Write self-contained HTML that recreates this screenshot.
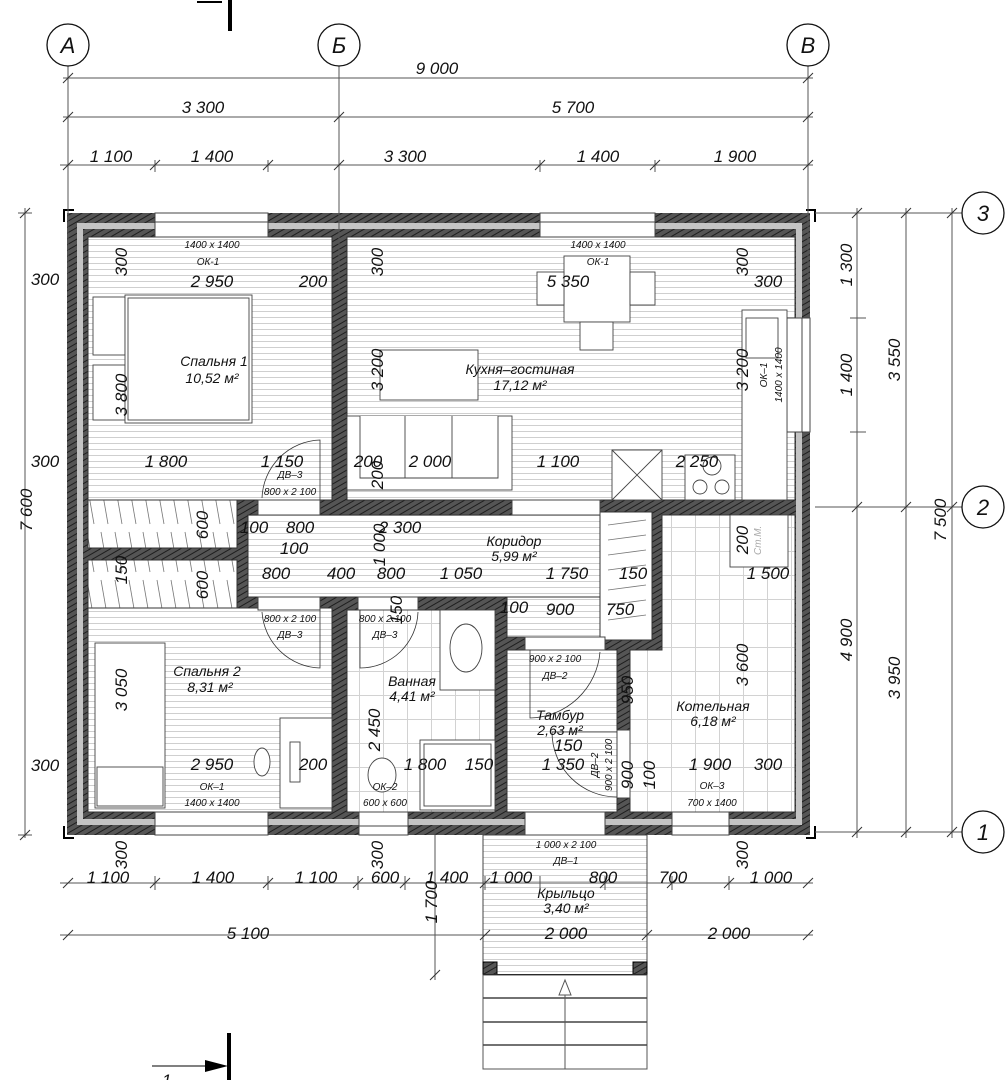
<!DOCTYPE html>
<html><head><meta charset="utf-8"><style>
html,body{margin:0;padding:0;background:#fff;}
svg{display:block;}
text{font-family:"Liberation Sans",sans-serif;font-style:italic;fill:#111;}
.d{font-size:17px;}
.s{font-size:10px;}
.r{font-size:14px;}
</style></head><body>
<svg width="1008" height="1080" viewBox="0 0 1008 1080" xmlns="http://www.w3.org/2000/svg">
<defs>
<pattern id="h" width="5" height="5" patternUnits="userSpaceOnUse" patternTransform="rotate(60)">
<rect width="5" height="5" fill="#555"/><line x1="0" y1="0" x2="0" y2="5" stroke="#1e1e1e" stroke-width="2"/></pattern>
<pattern id="fl" width="8" height="6" patternUnits="userSpaceOnUse"><rect width="8" height="6" fill="#fff"/><line x1="0" y1="5.5" x2="8" y2="5.5" stroke="#cfcfcf" stroke-width="1"/></pattern>
<pattern id="tl" width="24" height="24" patternUnits="userSpaceOnUse"><rect width="24" height="24" fill="#fff"/><path d="M0 23.5H24M23.5 0V24" stroke="#d2d2d2" stroke-width="1"/></pattern>
<pattern id="wd" width="14" height="48" patternUnits="userSpaceOnUse"><rect width="14" height="48" fill="#fff"/><line x1="3" y1="4" x2="10" y2="44" stroke="#777" stroke-width="0.8"/></pattern>
</defs>

<rect x="67" y="213" width="743" height="622" fill="url(#h)"/>
<rect x="80" y="226" width="719" height="596" fill="none" stroke="#c4c4c4" stroke-width="6"/>
<rect x="88" y="237" width="244" height="263" fill="url(#fl)" stroke="#333"/>
<rect x="88" y="500" width="149" height="48" fill="url(#wd)" stroke="#333"/>
<rect x="347" y="237" width="448" height="263" fill="url(#fl)" stroke="#333"/>
<rect x="248" y="515" width="352" height="82" fill="url(#fl)" stroke="#333"/>
<rect x="507" y="597" width="93" height="40" fill="url(#fl)" stroke="#333"/>
<rect x="600" y="512" width="52" height="128" fill="#fff" stroke="#333"/>
<path d="M608 525l38-5M608 540l38-5M608 555l38-5M608 570l38-5M608 590l38-5M608 605l38-5M608 620l38-5" stroke="#777" stroke-width="0.8"/>
<rect x="88" y="560" width="149" height="48" fill="url(#wd)" stroke="#333"/>
<rect x="88" y="608" width="244" height="204" fill="url(#fl)" stroke="#333"/>
<rect x="347" y="610" width="148" height="202" fill="url(#tl)" stroke="#333"/>
<rect x="507" y="650" width="110" height="162" fill="url(#fl)" stroke="#333"/>
<path d="M662 515H795V812H630V650H662Z" fill="url(#tl)" stroke="#333"/>
<g fill="#fff" stroke="#444">
<rect x="155" y="213" width="113" height="24"/><line x1="155" y1="222" x2="268" y2="222"/>
<rect x="540" y="213" width="115" height="24"/><line x1="540" y1="222" x2="655" y2="222"/>
<rect x="787" y="318" width="23" height="114"/><line x1="802" y1="318" x2="802" y2="432"/>
<rect x="155" y="812" width="113" height="23"/><line x1="155" y1="826" x2="268" y2="826"/>
<rect x="359" y="812" width="49" height="23"/><line x1="359" y1="826" x2="408" y2="826"/>
<rect x="525" y="812" width="80" height="23"/>
<rect x="672" y="812" width="57" height="23"/><line x1="672" y1="826" x2="729" y2="826"/>
<rect x="258" y="500" width="62" height="15"/>
<rect x="512" y="500" width="88" height="15"/>
<rect x="258" y="597" width="62" height="13"/>
<rect x="358" y="597" width="60" height="13"/>
<rect x="525" y="637" width="80" height="13"/>
<rect x="617" y="730" width="13" height="68"/>
</g>
<g fill="none" stroke="#333" stroke-width="0.8">
<path d="M320 500V440A60 60 0 0 0 262 498"/>
<path d="M320 610V668A60 60 0 0 1 262 612"/>
<path d="M360 610V668A58 58 0 0 0 418 612"/>
<path d="M530 650V718A72 72 0 0 0 600 652"/>
<path d="M617 732H552A65 65 0 0 0 617 797"/>
<path d="M530 835V910A72 72 0 0 0 600 838"/>
</g>
<g fill="#fff" stroke="#444" stroke-width="0.9">
<rect x="93" y="297" width="32" height="58"/><rect x="93" y="365" width="32" height="55"/>
<rect x="125" y="295" width="127" height="128"/><rect x="128" y="298" width="121" height="122"/>
<rect x="564" y="256" width="66" height="66"/><rect x="537" y="272" width="27" height="33"/><rect x="630" y="272" width="25" height="33"/><rect x="580" y="322" width="33" height="28"/>
<rect x="380" y="350" width="98" height="50"/>
<rect x="347" y="416" width="165" height="74"/><path d="M360 416V478H498V416M405 416V478M452 416V478"/>
<rect x="742" y="310" width="45" height="190"/><rect x="746" y="318" width="32" height="40"/>
<rect x="612" y="450" width="50" height="50"/><path d="M612 450L662 500M662 450L612 500"/>
<rect x="685" y="455" width="50" height="45"/><circle cx="712" cy="466" r="9"/><circle cx="700" cy="487" r="7"/><circle cx="722" cy="487" r="7"/>
<rect x="95" y="643" width="70" height="165"/><rect x="97" y="767" width="66" height="39"/>
<rect x="280" y="718" width="52" height="90"/><rect x="290" y="742" width="10" height="40"/><ellipse cx="262" cy="762" rx="8" ry="14"/>
<rect x="440" y="610" width="55" height="80"/><ellipse cx="466" cy="648" rx="16" ry="24"/>
<rect x="420" y="740" width="75" height="70"/><rect x="424" y="744" width="67" height="62"/>
<ellipse cx="382" cy="775" rx="14" ry="17"/>
<rect x="730" y="515" width="58" height="52"/>
</g>
<text x="748" y="548" class="s" style="fill:#aaa" transform="rotate(-90 758 545)">Ст.М.</text>
<rect x="483" y="835" width="164" height="140" fill="url(#fl)" stroke="#444"/>
<rect x="483" y="962" width="14" height="13" fill="url(#h)" stroke="#000"/>
<rect x="633" y="962" width="14" height="13" fill="url(#h)" stroke="#000"/>
<line x1="483" y1="975" x2="647" y2="975" stroke="#000" stroke-width="2"/>
<rect x="483" y="975" width="164" height="94" fill="#fff" stroke="#555"/>
<path d="M483 998H647M483 1022H647M483 1045H647" stroke="#444" stroke-width="1.5"/>
<path d="M565 1069V985" stroke="#555"/><path d="M559 995L565 980L571 995Z" fill="#fff" stroke="#555"/>
<line x1="230" y1="0" x2="230" y2="31" stroke="#000" stroke-width="4"/>
<path d="M197 2H222" stroke="#000" stroke-width="2"/>
<line x1="229" y1="1033" x2="229" y2="1080" stroke="#000" stroke-width="4"/>
<line x1="152" y1="1066" x2="210" y2="1066" stroke="#000"/><path d="M205 1060L228 1066L205 1072Z" fill="#000"/>
<text x="162" y="1086" class="d">1</text>
<path d="M64 222V210H74M64 826V838H74M806 210H815V222M815 826V838H806" fill="none" stroke="#000" stroke-width="2"/>

<g stroke="#555" stroke-width="1" fill="none">
<path d="M68 66V290M339 66V290M808 66V290"/>
<path d="M63 78H813M63 117H813M60 165H813"/>
<path d="M155 160V172M268 160V172M540 160V172M655 160V172"/>
<path d="M60 883H813M60 935H813"/>
<path d="M155 876V890M268 876V890M358 876V890M405 876V890M485 876V890M540 876V890M605 876V890M672 876V890M729 876V890"/>
<path d="M25 208V838M18 213H32M18 835H32"/>
<path d="M857 208V838M906 208V838M952 208V838"/>
<path d="M815 213H962M815 507H962M815 832H962"/>
<path d="M850 318H866M850 432H866"/>
<path d="M435 825V980"/>
</g>
<g stroke="#333" stroke-width="1">
<path d="M63 83L73 73M63 122L73 112M334 122L344 112M803 83L813 73M803 122L813 112M63 170L73 160M150 170L160 160M263 170L273 160M334 170L344 160M535 170L545 160M650 170L660 160M803 170L813 160"/>
<path d="M852 218L862 208M852 512L862 502M852 837L862 827M901 218L911 208M901 512L911 502M901 837L911 827M947 218L957 208M947 512L957 502M947 837L957 827"/>
<path d="M20 218L30 208M20 840L30 830M63 888L73 878M150 888L160 878M263 888L273 878M353 888L363 878M400 888L410 878M480 888L490 878M600 888L610 878M667 888L677 878M724 888L734 878M803 888L813 878M63 940L73 930M480 940L490 930M642 940L652 930M803 940L813 930M430 980L440 970"/>
</g>
<g fill="#fff" stroke="#111" stroke-width="1.3">
<circle cx="68" cy="45" r="21"/><circle cx="339" cy="45" r="21"/><circle cx="808" cy="45" r="21"/>
<circle cx="983" cy="213" r="21"/><circle cx="983" cy="507" r="21"/><circle cx="983" cy="832" r="21"/>
</g>
<g style="font-size:22px" text-anchor="middle">
<text x="68" y="53">А</text><text x="339" y="53">Б</text><text x="808" y="53">В</text>
<text x="983" y="221">3</text><text x="983" y="515">2</text><text x="983" y="840">1</text>
</g>

<g class="d" text-anchor="middle">
<text x="437" y="74">9 000</text>
<text x="203" y="113">3 300</text><text x="573" y="113">5 700</text>
<text x="111" y="162">1 100</text><text x="212" y="162">1 400</text><text x="405" y="162">3 300</text><text x="598" y="162">1 400</text><text x="735" y="162">1 900</text>
<text x="108" y="883">1 100</text><text x="213" y="883">1 400</text><text x="316" y="883">1 100</text><text x="385" y="883">600</text><text x="447" y="883">1 400</text><text x="511" y="883">1 000</text><text x="603" y="883">800</text><text x="673" y="883">700</text><text x="771" y="883">1 000</text>
<text x="248" y="939">5 100</text><text x="566" y="939">2 000</text><text x="729" y="939">2 000</text>
<text transform="translate(32 510) rotate(-90)">7 600</text>
<text transform="translate(852 265) rotate(-90)">1 300</text>
<text transform="translate(852 375) rotate(-90)">1 400</text>
<text transform="translate(852 640) rotate(-90)">4 900</text>
<text transform="translate(900 360) rotate(-90)">3 550</text>
<text transform="translate(900 678) rotate(-90)">3 950</text>
<text transform="translate(946 520) rotate(-90)">7 500</text>
<text transform="translate(437 902) rotate(-90)">1 700</text>
<text x="45" y="285">300</text><text x="45" y="467">300</text><text x="45" y="771">300</text>
<text transform="translate(127 262) rotate(-90)">300</text>
<text x="212" y="287">2 950</text><text x="313" y="287">200</text>
<text transform="translate(127 395) rotate(-90)">3 800</text>
<text x="166" y="467">1 800</text><text x="282" y="467">1 150</text>
<text transform="translate(383 262) rotate(-90)">300</text>
<text x="568" y="287">5 350</text><text x="768" y="287">300</text>
<text transform="translate(748 262) rotate(-90)">300</text>
<text transform="translate(383 370) rotate(-90)">3 200</text>
<text transform="translate(748 370) rotate(-90)">3 200</text>
<text x="368" y="467">200</text><text x="430" y="467">2 000</text><text x="558" y="467">1 100</text><text x="697" y="467">2 250</text>
<text transform="translate(383 475) rotate(-90)">200</text>
<text x="254" y="533">100</text><text x="300" y="533">800</text><text x="400" y="533">2 300</text>
<text x="294" y="554">100</text>
<text transform="translate(385 545) rotate(-90)">1 000</text>
<text transform="translate(208 525) rotate(-90)">600</text>
<text transform="translate(208 585) rotate(-90)">600</text>
<text transform="translate(127 570) rotate(-90)">150</text>
<text x="276" y="579">800</text><text x="341" y="579">400</text><text x="391" y="579">800</text><text x="461" y="579">1 050</text><text x="567" y="579">1 750</text><text x="633" y="579">150</text>
<text transform="translate(402 610) rotate(-90)">150</text>
<text x="514" y="613">100</text><text x="560" y="615">900</text><text x="620" y="615">750</text>
<text x="768" y="579">1 500</text>
<text transform="translate(748 540) rotate(-90)">200</text>
<text transform="translate(748 665) rotate(-90)">3 600</text>
<text transform="translate(633 690) rotate(-90)">950</text>
<text transform="translate(633 775) rotate(-90)">900</text>
<text transform="translate(655 775) rotate(-90)">100</text>
<text x="710" y="770">1 900</text><text x="768" y="770">300</text>
<text transform="translate(127 690) rotate(-90)">3 050</text>
<text x="212" y="770">2 950</text><text x="313" y="770">200</text>
<text transform="translate(380 730) rotate(-90)">2 450</text>
<text x="425" y="770">1 800</text><text x="479" y="770">150</text>
<text x="568" y="751">150</text><text x="563" y="770">1 350</text>
<text transform="translate(127 855) rotate(-90)">300</text>
<text transform="translate(383 855) rotate(-90)">300</text>
<text transform="translate(748 855) rotate(-90)">300</text>
</g>
<g class="r" text-anchor="middle">
<text x="214" y="366">Спальня 1</text><text x="212" y="383">10,52 м²</text>
<text x="520" y="374">Кухня–гостиная</text><text x="520" y="390">17,12 м²</text>
<text x="514" y="546">Коридор</text><text x="514" y="561">5,99 м²</text>
<text x="207" y="676">Спальня 2</text><text x="210" y="692">8,31 м²</text>
<text x="412" y="686">Ванная</text><text x="412" y="701">4,41 м²</text>
<text x="560" y="720">Тамбур</text><text x="560" y="735">2,63 м²</text>
<text x="713" y="711">Котельная</text><text x="713" y="726">6,18 м²</text>
<text x="566" y="898">Крыльцо</text><text x="566" y="913">3,40 м²</text>
</g>
<g class="s" text-anchor="middle">
<text x="212" y="248">1400 x 1400</text><text x="208" y="265">ОК-1</text>
<text x="598" y="248">1400 x 1400</text><text x="598" y="265">ОК-1</text>
<text x="290" y="478">ДВ–3</text><text x="290" y="495">800 x 2 100</text>
<text x="290" y="622">800 x 2 100</text><text x="290" y="638">ДВ–3</text>
<text x="385" y="622">800 x 2 100</text><text x="385" y="638">ДВ–3</text>
<text x="555" y="662">900 x 2 100</text><text x="555" y="679">ДВ–2</text>
<text x="212" y="790">ОК–1</text><text x="212" y="806">1400 x 1400</text>
<text x="385" y="790">ОК–2</text><text x="385" y="806">600 x 600</text>
<text x="712" y="789">ОК–3</text><text x="712" y="806">700 x 1400</text>
<text x="566" y="848">1 000 x 2 100</text><text x="566" y="864">ДВ–1</text>
<text transform="translate(767 375) rotate(-90)">ОК–1</text>
<text transform="translate(782 375) rotate(-90)">1400 x 1400</text>
<text transform="translate(598 765) rotate(-90)">ДВ–2</text>
<text transform="translate(612 765) rotate(-90)">900 x 2 100</text>
</g>
</svg>
</body></html>
